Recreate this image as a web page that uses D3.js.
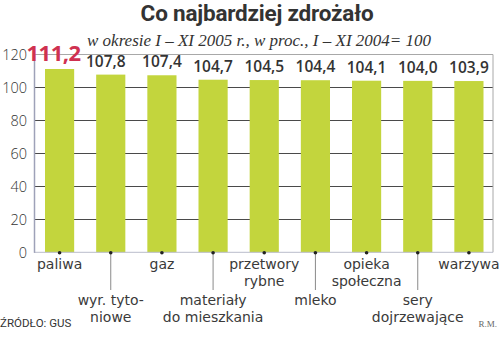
<!DOCTYPE html>
<html>
<head>
<meta charset="utf-8">
<script src="https://cdn.jsdelivr.net/npm/d3@7"></script>
<style>
  html, body { margin: 0; padding: 0; background: #fff; }
  svg { display: block; }
</style>
</head>
<body>
<svg id="chart" width="500" height="344"></svg>
<script>
// Price growth, Jan–Nov 2005 vs Jan–Nov 2004 (=100)
const categories = [
  ["paliwa"],
  ["wyr. tyto-", "niowe"],
  ["gaz"],
  ["materiały", "do mieszkania"],
  ["przetwory", "rybne"],
  ["mleko"],
  ["opieka", "społeczna"],
  ["sery", "dojrzewające"],
  ["warzywa"]
];
const values = [111.2, 107.8, 107.4, 104.7, 104.5, 104.4, 104.1, 104.0, 103.9];
const yTicks = [0, 20, 40, 60, 80, 100, 120];

const svg = d3.select("#chart");
const margin = { left: 34, right: 5.5, top: 54.5, bottom: 91.7 };
const W = 500, H = 344;

const x = d3.scaleBand()
  .domain(d3.range(values.length))
  .range([margin.left, W - margin.right])
  .paddingInner(0.43)
  .paddingOuter(0.215);

const y = d3.scaleLinear()
  .domain([0, 120])
  .range([H - margin.bottom, margin.top]);

const fmt = v => d3.format(".1f")(v).replace(".", ",");
const sans = "Roboto, 'Open Sans', sans-serif";
const open = "'Open Sans', Roboto, sans-serif";
const label = "'DejaVu Sans', 'Open Sans', sans-serif";

// Title and subtitle
svg.append("text")
  .attr("x", 257).attr("y", 21)
  .attr("text-anchor", "middle")
  .attr("font-family", sans)
  .attr("font-weight", 700)
  .attr("font-size", 22.5)
  .attr("letter-spacing", -0.2)
  .attr("fill", "#333")
  .text("Co najbardziej zdrożało");

svg.append("text")
  .attr("x", 87).attr("y", 46)
  .attr("font-family", "'Liberation Serif', 'DejaVu Serif', serif")
  .attr("font-style", "italic")
  .attr("font-size", 17)
  .attr("fill", "#333")
  .text("w okresie I – XI 2005 r., w proc., I – XI 2004= 100");

// Horizontal grid (under the bars)
svg.append("g")
  .selectAll("line")
  .data(yTicks.filter(t => t > 0 && t < 120))
  .join("line")
  .attr("x1", margin.left).attr("x2", W - margin.right - 1.5)
  .attr("y1", d => Math.round(y(d)) + 0.5).attr("y2", d => Math.round(y(d)) + 0.5)
  .attr("stroke", "#4a4a4a")
  .attr("stroke-width", 1);

// Frame: top and right
const x0 = margin.left, x1 = W - margin.right - 1.5;
svg.append("path")
  .attr("d", `M${x0},${y(120)}H${x1}V${y(0)}`)
  .attr("fill", "none")
  .attr("stroke", "#a8a8a8")
  .attr("stroke-width", 1);

// Bars
svg.append("g")
  .selectAll("rect")
  .data(values)
  .join("rect")
  .attr("x", (d, i) => x(i))
  .attr("width", x.bandwidth())
  .attr("y", d => y(d))
  .attr("height", d => y(0) - y(d))
  .attr("fill", "#c3d53d");

// Bottom baseline
svg.append("line")
  .attr("x1", x0).attr("x2", x1)
  .attr("y1", y(0)).attr("y2", y(0))
  .attr("stroke", "#b9bccb")
  .attr("stroke-width", 1);

// Left axis
const yAxis = d3.axisLeft(y).tickValues(yTicks).tickSize(0).tickPadding(7);
const gy = svg.append("g")
  .attr("transform", `translate(${margin.left},0)`)
  .call(yAxis);
gy.select(".domain").attr("stroke", "#9ea2b8").attr("stroke-width", 1.5);
gy.selectAll("text")
  .attr("font-family", open)
  .attr("font-weight", 300)
  .attr("font-size", 14.5)
  .attr("fill", "#333")
  .attr("dy", "0.36em");

// Value labels
svg.append("g")
  .selectAll("text")
  .data(values)
  .join("text")
  .attr("x", (d, i) => x(i) + x.bandwidth() / 2 + (i === 0 ? -6 : (i === 1 ? -5 : 0)))
  .attr("y", d => y(d) - 8)
  .attr("text-anchor", "middle")
  .attr("font-family", open)
  .attr("font-weight", (d, i) => i === 0 ? 700 : 600)
  .attr("font-size", (d, i) => i === 0 ? 22 : 15.5)
  .attr("letter-spacing", (d, i) => i === 0 ? -0.5 : 0)
  .attr("fill", (d, i) => i === 0 ? "#cf3150" : "#333")
  .text(fmt);

// Category ticks, leader lines and labels (odd ones hang lower on a leader line)
const cats = svg.append("g")
  .selectAll("g")
  .data(categories)
  .join("g")
  .attr("transform", (d, i) => `translate(${x(i) + x.bandwidth() / 2},0)`);

cats.filter((d, i) => i % 2 === 1)
  .append("line")
  .attr("y1", y(0)).attr("y2", 290)
  .attr("stroke", "#8a8a8a")
  .attr("stroke-width", 1);

cats.append("circle")
  .attr("cy", y(0) + 0.5)
  .attr("r", 1.8)
  .attr("fill", "#222");

cats.each(function (lines, i) {
  const top = i % 2 === 0 ? 268.5 : 305;
  d3.select(this).selectAll("text")
    .data(lines)
    .join("text")
    .attr("x", 0)
    .attr("y", (d, j) => top + j * 17)
    .attr("text-anchor", "middle")
    .attr("font-family", label)
    .attr("font-weight", 400)
    .attr("font-size", 14)
    .attr("fill", "#3a3a3a")
    .text(d => d);
});

// Footer
svg.append("text")
  .attr("x", 0).attr("y", 327)
  .attr("font-family", sans)
  .attr("font-size", 11.5)
  .attr("fill", "#333")
  .text("ŹRÓDŁO: GUS");

svg.append("text")
  .attr("x", 497).attr("y", 327)
  .attr("text-anchor", "end")
  .attr("font-family", "'Liberation Serif', serif")
  .attr("font-size", 9)
  .attr("fill", "#666")
  .text("R.M.");
</script>
</body>
</html>
